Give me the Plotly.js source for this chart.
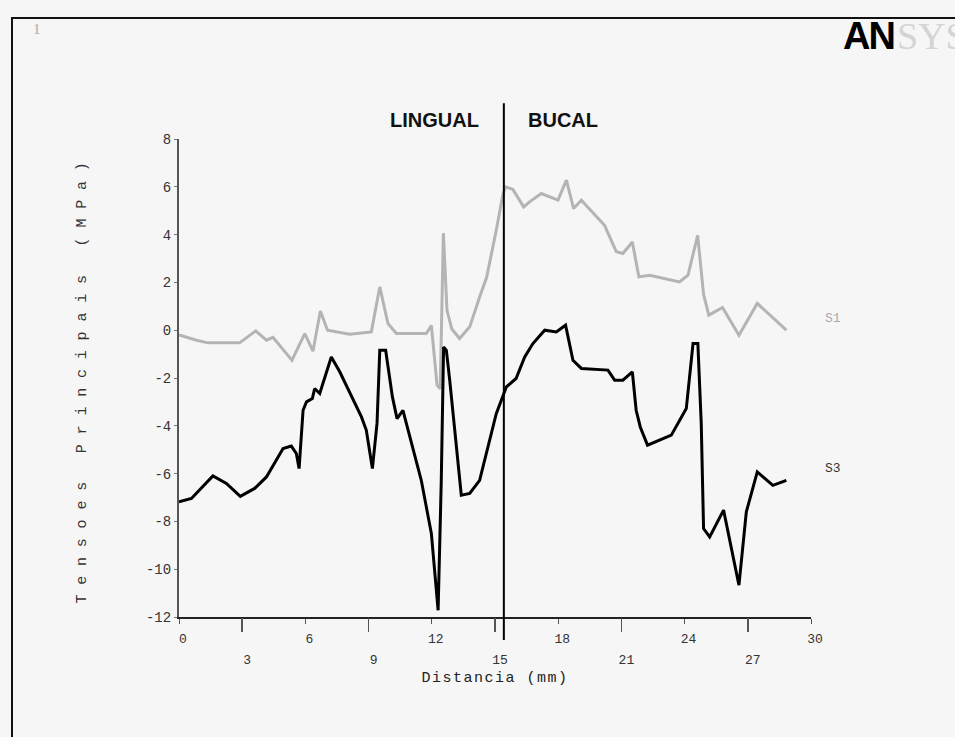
<!DOCTYPE html>
<html>
<head>
<meta charset="utf-8">
<script src="https://cdn.plot.ly/plotly-3.0.1.min.js"></script>
<style>
  html, body { margin:0; padding:0; background:#f6f6f6; overflow:hidden; }
  #frame { position:absolute; left:11px; top:17px; width:2000px; height:2000px; border:2px solid #111; box-sizing:border-box; }
  #num { position:absolute; left:33px; top:21px; font-family:"Liberation Serif", serif; font-size:15px; color:#aaa; }
  #logo { position:absolute; left:843px; top:17px; font-size:38px; line-height:38px; white-space:nowrap; }
  #logo .an { font-family:"Liberation Sans", sans-serif; font-weight:bold; color:#000; letter-spacing:-2px; }
  #logo .sys { font-family:"Liberation Serif", serif; color:#d4d4d4; padding-left:3px; }
  #chart { position:absolute; left:0; top:0; width:955px; height:737px; }
  .ytitle { letter-spacing:9.8px; }
  .xtitle { letter-spacing:1.5px; }
</style>
</head>
<body>
<div id="frame"></div>
<div id="num">1</div>
<div id="logo"><span class="an">AN</span><span class="sys">SYS</span></div>
<div id="chart"></div>
<script>
// ---- data ----
const s1Dist = [0, 0.83, 1.38, 2.88, 3.64, 4.15, 4.46, 5.36, 5.97, 6.36, 6.71, 7.05, 8.1, 9.13, 9.53, 9.92, 10.32, 11.74, 11.98, 12.25, 12.4, 12.55, 12.72, 12.95, 13.32, 13.8, 14.27, 14.6, 15.06, 15.38, 15.5, 15.85, 16.36, 16.64, 17.2, 17.99, 18.39, 18.73, 19.1, 20.2, 20.76, 21.07, 21.52, 21.83, 22.34, 23.76, 24.16, 24.62, 24.9, 25.15, 25.8, 26.58, 27.45, 28.83];
const s1Vals = [-0.2, -0.42, -0.53, -0.53, -0.03, -0.42, -0.3, -1.26, -0.14, -0.88, 0.8, 0, -0.17, -0.07, 1.81, 0.28, -0.14, -0.14, 0.2, -2.3, -2.45, 4.06, 0.84, 0.05, -0.35, 0.14, 1.39, 2.2, 4.18, 5.7, 6.0, 5.89, 5.16, 5.37, 5.72, 5.44, 6.28, 5.09, 5.44, 4.39, 3.28, 3.21, 3.69, 2.23, 2.3, 2.02, 2.3, 3.97, 1.5, 0.63, 0.95, -0.21, 1.12, 0.0];

const s3Dist = [0, 0.59, 1.61, 2.25, 2.91, 3.59, 4.15, 4.62, 4.94, 5.33, 5.57, 5.7, 5.89, 6.05, 6.33, 6.44, 6.68, 7.23, 7.63, 8.66, 8.89, 9.18, 9.4, 9.53, 9.81, 10.13, 10.35, 10.63, 10.87, 11.5, 11.98, 12.3, 12.45, 12.56, 12.69, 12.85, 13.4, 13.8, 14.27, 15.06, 15.54, 16.0, 16.41, 16.8, 17.36, 17.91, 18.35, 18.7, 19.1, 20.36, 20.68, 21.07, 21.52, 21.7, 21.9, 22.24, 23.37, 24.08, 24.4, 24.63, 24.79, 24.9, 25.19, 25.85, 26.58, 26.93, 27.45, 28.19, 28.83];
const s3Vals = [-7.18, -7.04, -6.1, -6.41, -6.95, -6.62, -6.14, -5.44, -4.95, -4.85, -5.16, -5.79, -3.35, -3.0, -2.86, -2.44, -2.65, -1.12, -1.74, -3.63, -4.18, -5.79, -3.9, -0.84, -0.84, -2.79, -3.7, -3.35, -4.18, -6.28, -8.51, -11.72, -6.28, -0.7, -0.84, -2.09, -6.9, -6.83, -6.28, -3.49, -2.37, -2.02, -1.12, -0.56, 0.0, -0.07, 0.21, -1.26, -1.6, -1.67, -2.09, -2.09, -1.74, -3.35, -4.06, -4.81, -4.39, -3.28, -0.56, -0.56, -3.9, -8.3, -8.65, -7.53, -10.67, -7.6, -5.93, -6.49, -6.28];

const xTicksUpper = [0, 6, 12, 18, 24, 30];
const xTicksLower = [3, 9, 15, 21, 27];
const yTicks = [-12, -10, -8, -6, -4, -2, 0, 2, 4, 6, 8];
const dividerX = 15.42;
const regionLabels = ["LINGUAL", "BUCAL"];
const regionLabelX = [12.14, 18.23];
const seriesNames = ["S1", "S3"];
const seriesLabelY = [0.5, -5.77];

const mono = "Liberation Mono, DejaVu Sans Mono, monospace";

const traces = [
  { x: s1Dist, y: s1Vals, name: seriesNames[0], mode: "lines", xaxis: "x", yaxis: "y",
    line: { color: "#b4b4b4", width: 3 }, hoverinfo: "skip" },
  { x: s3Dist, y: s3Vals, name: seriesNames[1], mode: "lines", xaxis: "x2", yaxis: "y",
    line: { color: "#000000", width: 3 }, hoverinfo: "skip" }
];

const layout = {
  width: 955, height: 737,
  margin: { l: 179, r: 144, t: 139, b: 120 },
  paper_bgcolor: "rgba(0,0,0,0)", plot_bgcolor: "rgba(0,0,0,0)",
  showlegend: false,
  xaxis: {
    range: [0, 30], tickmode: "array", tickvals: xTicksUpper, ticktext: xTicksUpper.map(String),
    ticks: "outside", ticklen: 5, tickwidth: 1, tickcolor: "#555",
    showline: true, linecolor: "#222", linewidth: 2, showgrid: false, zeroline: false,
    tickfont: { family: mono, size: 13, color: "#333" }, ticklabelstandoff: 3, ticklabelshift: 4,
    title: { text: "Distancia (mm)", font: { family: mono, size: 15, color: "#222" }, standoff: 26 }
  },
  xaxis2: {
    overlaying: "x", anchor: "y", side: "bottom", range: [0, 30],
    tickmode: "array", tickvals: xTicksLower, ticktext: xTicksLower.map(String),
    ticks: "outside", ticklen: 14, tickwidth: 1.5, tickcolor: "#555",
    showline: false, showgrid: false, zeroline: false,
    tickfont: { family: mono, size: 13, color: "#333" }, ticklabelstandoff: 16, ticklabelshift: 5
  },
  yaxis: {
    range: [-12, 8], tickmode: "array", tickvals: yTicks, ticktext: yTicks.map(String),
    ticks: "outside", ticklen: 3, tickwidth: 1, tickcolor: "#777",
    showline: true, linecolor: "#555", linewidth: 2, showgrid: false, zeroline: false,
    tickfont: { family: mono, size: 14, color: "#333" }, ticklabelstandoff: 0,
    title: { text: "Tensoes Principais (MPa)", font: { family: mono, size: 15, color: "#333" }, standoff: 56 }
  },
  shapes: [
    { type: "line", xref: "x", yref: "paper", x0: dividerX, x1: dividerX, y0: -0.048, y1: 1.075,
      line: { color: "#000", width: 2 }, layer: "above" }
  ],
  annotations: [
    { x: regionLabelX[0], y: 1.0397, xref: "x", yref: "paper", xanchor: "center", yanchor: "middle",
      text: regionLabels[0], showarrow: false,
      font: { family: "Liberation Sans, Arial, sans-serif", size: 20, color: "#111", weight: "bold" } },
    { x: regionLabelX[1], y: 1.0397, xref: "x", yref: "paper", xanchor: "center", yanchor: "middle",
      text: regionLabels[1], showarrow: false,
      font: { family: "Liberation Sans, Arial, sans-serif", size: 20, color: "#111", weight: "bold" } },
    { x: 1.0348, y: seriesLabelY[0], xref: "paper", yref: "y", xanchor: "center", yanchor: "middle",
      text: seriesNames[0], showarrow: false, font: { family: mono, size: 13, color: "#aaa" } },
    { x: 1.0348, y: seriesLabelY[1], xref: "paper", yref: "y", xanchor: "center", yanchor: "middle",
      text: seriesNames[1], showarrow: false, font: { family: mono, size: 13, color: "#333" } }
  ]
};

Plotly.newPlot("chart", traces, layout, { staticPlot: true, displayModeBar: false });
</script>
</body>
</html>
